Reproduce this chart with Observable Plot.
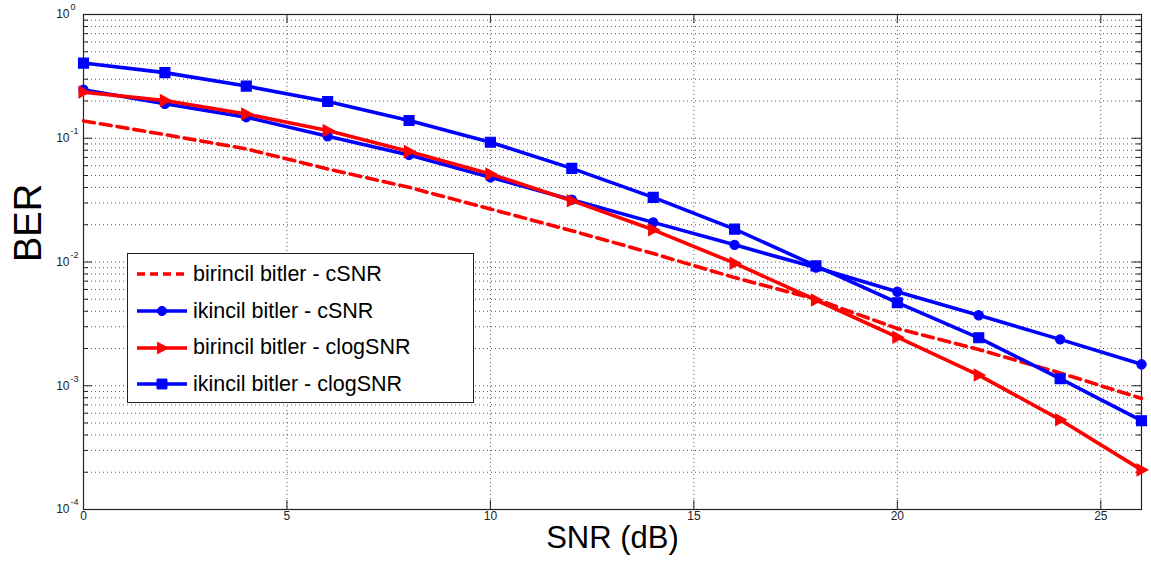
<!DOCTYPE html>
<html><head><meta charset="utf-8">
<script src="https://cdn.jsdelivr.net/npm/d3@7"></script>
<script src="https://cdn.jsdelivr.net/npm/@observablehq/plot@0.6"></script>
<style>
body{margin:0;background:#fff;font-family:"Liberation Sans",Arial,sans-serif}
#wrap{position:relative;width:1151px;height:571px;overflow:hidden}
#legend{position:absolute;left:127px;top:253px;width:347px;height:150px;border:1.5px solid #222;background:#fff;box-sizing:border-box}
.row{position:absolute;left:8px;height:30px;display:flex;align-items:center}
.row span{font-size:21.5px;color:#000;margin-left:5px;white-space:nowrap}
</style></head>
<body><div id="wrap"></div>
<script>
// ---- data ----
const snr = [0, 2, 4, 6, 8, 10, 12, 14, 16, 18, 20, 22, 24, 26];
const birincilCSNR    = [0.138, 0.107, 0.082, 0.0565, 0.0401, 0.0268, 0.0179, 0.0117, 0.00748, 0.0050, 0.0029, 0.00196, 0.00127, 0.00079];
const ikincilCSNR     = [0.247, 0.190, 0.148, 0.1038, 0.0733, 0.0483, 0.0319, 0.0209, 0.01376, 0.00901, 0.00575, 0.00371, 0.00237, 0.00149];
const birincilClogSNR = [0.236, 0.202, 0.157, 0.1154, 0.078, 0.0515, 0.0313, 0.0182, 0.00978, 0.00493, 0.00247, 0.00122, 0.000532, 0.000209];
const ikincilClogSNR  = [0.405, 0.339, 0.264, 0.198, 0.139, 0.0929, 0.0571, 0.0333, 0.01845, 0.0093, 0.00469, 0.00244, 0.00114, 0.000522];
const seriesNames = ["birincil bitler - cSNR", "ikincil bitler - cSNR", "birincil bitler - clogSNR", "ikincil bitler - clogSNR"];
const xTicks = [0, 5, 10, 15, 20, 25];
const yMajor = [1e-4, 1e-3, 1e-2, 1e-1, 1];

// ---- styles ----
const triRight = {draw(ctx, size) {
  const s = Math.sqrt(size);
  ctx.moveTo(s * 0.62, 0);
  ctx.lineTo(-s * 0.45, -s * 0.58);
  ctx.lineTo(-s * 0.45, s * 0.58);
  ctx.closePath();
}};
const series = [
  {name: seriesNames[0], values: birincilCSNR, color: "#ff0000", dash: "11,6", symbol: null},
  {name: seriesNames[1], values: ikincilCSNR, color: "#0000ff", dash: null, symbol: "circle", r: 4.6},
  {name: seriesNames[2], values: birincilClogSNR, color: "#ff0000", dash: null, symbol: triRight, r: 5.6},
  {name: seriesNames[3], values: ikincilClogSNR, color: "#0000ff", dash: null, symbol: "square", r: 5.6}
];

const W = 1151, H = 571, mL = 83, mR = 10, mT = 14, mB = 62;
const plotW = W - mL - mR, plotH = H - mT - mB;
const yAll = d3.scaleLog().domain([1e-4, 1]).ticks();
const yMinor = yAll.filter(v => !yMajor.some(m => Math.abs(m - v) / m < 1e-9));

const marks = [
  Plot.ruleY(yAll, {y: d => d, stroke: "#555", strokeWidth: 1, strokeDasharray: "1,3"}),
  Plot.ruleX(xTicks.filter(v => v > 0), {x: d => d, stroke: "#555", strokeWidth: 1, strokeDasharray: "1,3"}),
  // tick marks (inside)
  Plot.tickY(yMajor, {y: d => d, insetRight: plotW - 9, stroke: "#222"}),
  Plot.tickY(yMajor, {y: d => d, insetLeft: plotW - 9, stroke: "#222"}),
  Plot.tickY(yMinor, {y: d => d, insetRight: plotW - 5, stroke: "#222"}),
  Plot.tickY(yMinor, {y: d => d, insetLeft: plotW - 5, stroke: "#222"}),
  Plot.tickX(xTicks, {x: d => d, insetTop: plotH - 9, stroke: "#222"}),
  Plot.tickX(xTicks, {x: d => d, insetBottom: plotH - 9, stroke: "#222"}),
  Plot.frame({stroke: "#222", strokeWidth: 1.2}),
  // tick labels
  Plot.text(xTicks, {x: d => d, frameAnchor: "bottom", dy: 10.5, text: d => String(d), fontSize: 12, fill: "#222"}),
  Plot.text(yMajor, {y: d => d, frameAnchor: "left", dx: -14, text: () => "10", textAnchor: "end", fontSize: 12, fill: "#222"}),
  Plot.text(yMajor, {y: d => d, frameAnchor: "left", dx: -13, dy: -7, text: d => String(Math.round(Math.log10(d))), textAnchor: "start", fontSize: 9, fill: "#222"}),
  // axis titles
  Plot.text(["SNR (dB)"], {frameAnchor: "bottom", dy: 38, text: d => d, fontSize: 31, fill: "#000"}),
  Plot.text(["BER"], {frameAnchor: "left", dx: -55, rotate: -90, text: d => d, fontSize: 38, fill: "#000"})
];
for (const s of series) {
  const data = snr.map((x, i) => ({x, y: s.values[i]}));
  marks.push(Plot.line(data, {x: "x", y: "y", stroke: s.color, strokeWidth: 3.6, strokeDasharray: s.dash ?? undefined}));
  if (s.symbol) marks.push(Plot.dot(data, {x: "x", y: "y", symbol: s.symbol, r: s.r, fill: s.color, stroke: s.color, strokeWidth: 1.2}));
}

const chart = Plot.plot({
  width: W, height: H,
  marginLeft: mL, marginRight: mR, marginTop: mT, marginBottom: mB,
  style: {fontFamily: "'Liberation Sans', Arial, sans-serif", background: "#fff"},
  x: {domain: [0, 26], axis: null},
  y: {type: "log", domain: [1e-4, 1], axis: null},
  marks
});
const wrap = document.getElementById("wrap");
wrap.appendChild(chart);

// legend
const leg = document.createElement("div");
leg.id = "legend";
const rowTops = [5, 42, 78.5, 115];
series.forEach((s, i) => {
  const row = document.createElement("div");
  row.className = "row";
  row.style.top = rowTops[i] + "px";
  const sw = d3.create("svg").attr("width", 52).attr("height", 30);
  sw.append("line").attr("x1", 1).attr("x2", 51).attr("y1", 15).attr("y2", 15)
    .attr("stroke", s.color).attr("stroke-width", 3.6).attr("stroke-dasharray", s.dash ? "8,5" : null);
  if (s.symbol) {
    const sym = typeof s.symbol === "string" ? (s.symbol === "circle" ? d3.symbolCircle : d3.symbolSquare) : s.symbol;
    sw.append("path").attr("d", d3.symbol(sym, Math.PI * s.r * s.r)()).attr("transform", "translate(26,15)")
      .attr("fill", s.color).attr("stroke", s.color);
  }
  row.appendChild(sw.node());
  const t = document.createElement("span");
  t.textContent = s.name;
  row.appendChild(t);
  leg.appendChild(row);
});
wrap.appendChild(leg);
</script>
</body></html>
